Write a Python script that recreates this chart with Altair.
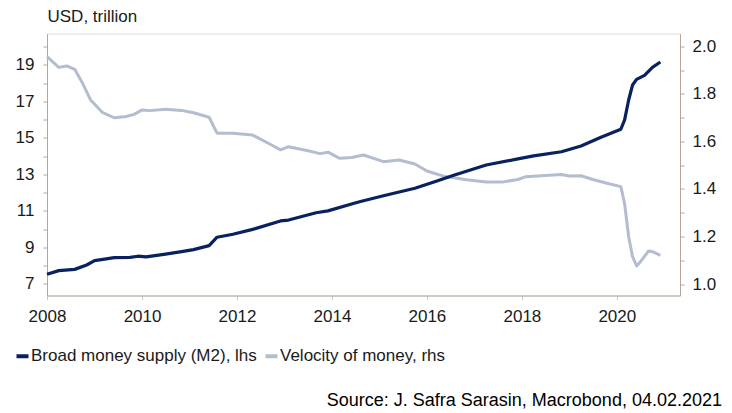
import altair as alt
import pandas as pd

# ---- data ----
series_names = ["Broad money supply (M2), lhs", "Velocity of money, rhs"]
series_colors = ["#0a2160", "#b4bdcf"]

m2_dates = ["2008-01", "2008-04", "2008-08", "2008-11", "2009-01", "2009-04", "2009-06",
            "2009-10", "2009-12", "2010-02", "2010-07", "2010-11", "2011-02", "2011-06",
            "2011-08", "2011-12", "2012-05", "2012-12", "2013-02", "2013-09", "2013-12",
            "2014-06", "2014-08", "2015-02", "2015-10", "2016-03", "2016-08", "2017-04",
            "2017-12", "2018-04", "2018-11", "2019-04", "2019-09", "2020-02", "2020-03",
            "2020-04", "2020-05", "2020-06", "2020-08", "2020-10", "2020-12"]
m2_values = [7.53, 7.73, 7.80, 8.04, 8.28, 8.37, 8.44,
             8.46, 8.52, 8.48, 8.63, 8.77, 8.88, 9.10,
             9.56, 9.72, 9.99, 10.45, 10.50, 10.90, 11.00,
             11.38, 11.50, 11.83, 12.24, 12.60, 12.97, 13.51,
             13.85, 14.01, 14.24, 14.55, 15.03, 15.47, 15.98,
             17.07, 17.89, 18.20, 18.42, 18.86, 19.15]

vel_dates = ["2008-01", "2008-04", "2008-06", "2008-08", "2008-10", "2008-12", "2009-03",
             "2009-06", "2009-09", "2009-11", "2010-01", "2010-03", "2010-07", "2010-11",
             "2011-02", "2011-06", "2011-08", "2011-12", "2012-05", "2012-10", "2012-12",
             "2013-02", "2013-07", "2013-10", "2013-12", "2014-03", "2014-06", "2014-09",
             "2015-02", "2015-06", "2015-10", "2016-01", "2016-05", "2016-11", "2017-04",
             "2017-08", "2017-12", "2018-02", "2018-06", "2018-11", "2019-01", "2019-04",
             "2019-07", "2019-11", "2020-02", "2020-03", "2020-04", "2020-05", "2020-06",
             "2020-07", "2020-09", "2020-10", "2020-12"]
vel_values = [1.957, 1.912, 1.918, 1.904, 1.845, 1.775, 1.723,
              1.700, 1.705, 1.714, 1.733, 1.730, 1.736, 1.731,
              1.721, 1.702, 1.635, 1.635, 1.627, 1.583, 1.565,
              1.578, 1.561, 1.549, 1.555, 1.529, 1.533, 1.543,
              1.515, 1.522, 1.505, 1.476, 1.455, 1.439, 1.429,
              1.429, 1.440, 1.452, 1.456, 1.461, 1.455, 1.456,
              1.440, 1.422, 1.410, 1.338, 1.199, 1.115, 1.076,
              1.094, 1.139, 1.136, 1.121]

left_ticks = list(range(7, 21))
right_ticks = [round(1.0 + 0.1 * i, 1) for i in range(11)]
x_tick_years = [2008, 2010, 2012, 2014, 2016, 2018, 2020]

# ---- styling ----
FONT = "Liberation Sans"
AXIS_COLOR = "#b3a899"
LABEL_COLOR = "#1a1a1a"

m2_df = pd.DataFrame({"date": pd.to_datetime([d + "-01" for d in m2_dates]),
                      "value": m2_values, "series": series_names[0]})
vel_df = pd.DataFrame({"date": pd.to_datetime([d + "-01" for d in vel_dates]),
                       "value": vel_values, "series": series_names[1]})

x_enc = alt.X(
    "date:T",
    scale=alt.Scale(domain=[alt.DateTime(year=2008, month=1, date=1),
                            alt.DateTime(year=2021, month=5, date=1)]),
    axis=alt.Axis(
        values=[alt.DateTime(year=y, month=1, date=1) for y in x_tick_years],
        format="%Y", title=None, grid=False, labelFlush=False, labelOverlap=False,
        domainColor=AXIS_COLOR, tickColor="#c8c8c8", tickSize=4,
        labelFont=FONT, labelFontSize=17, labelColor=LABEL_COLOR, labelPadding=9,
    ),
)

color_enc = alt.Color(
    "series:N",
    scale=alt.Scale(domain=series_names, range=series_colors),
    legend=alt.Legend(
        title=None, orient="none", legendX=-33, legendY=314, direction="horizontal",
        symbolType="stroke", symbolStrokeWidth=4, symbolSize=144,
        labelFont=FONT, labelFontSize=17, labelColor=LABEL_COLOR, labelLimit=0,
        labelOffset=0, columnPadding=0, padding=0,
    ),
)

vel_line = alt.Chart(vel_df).mark_line(strokeWidth=3, strokeJoin="round").encode(
    x=x_enc,
    y=alt.Y(
        "value:Q",
        scale=alt.Scale(domain=[0.9516, 2.0547], nice=False, zero=False),
        axis=alt.Axis(
            orient="right", values=right_ticks, title=None, grid=False,
            labelFlush=False, labelOverlap=False,
            labelExpr="round(datum.value*10) % 2 == 0 ? format(datum.value, '.1f') : ''",
            domainColor=AXIS_COLOR, tickColor=AXIS_COLOR, tickSize=4,
            labelFont=FONT, labelFontSize=17, labelColor=LABEL_COLOR, labelPadding=8,
        ),
    ),
    color=color_enc,
)

m2_line = alt.Chart(m2_df).mark_line(strokeWidth=3.2, strokeJoin="round").encode(
    x=x_enc,
    y=alt.Y(
        "value:Q",
        scale=alt.Scale(domain=[6.37, 20.71], nice=False, zero=False),
        axis=alt.Axis(
            orient="left", values=left_ticks, grid=False,
            labelFlush=False, labelOverlap=False,
            labelExpr="datum.value % 2 == 1 ? datum.label : ''",
            domainColor=AXIS_COLOR, tickColor=AXIS_COLOR, tickSize=4,
            labelFont=FONT, labelFontSize=17, labelColor=LABEL_COLOR, labelPadding=9,
            title="USD, trillion", titleAngle=0, titleAlign="left", titleBaseline="alphabetic",
            titleX=0, titleY=-12.5, titleFont=FONT, titleFontSize=17,
            titleFontWeight="normal", titleColor=LABEL_COLOR,
        ),
    ),
    color=color_enc,
)

chart = alt.layer(vel_line, m2_line).resolve_scale(y="independent").properties(
    width=633, height=262,
    autosize=alt.AutoSizeParams(type="none"),
    padding={"left": 39, "top": 25.5, "right": 44, "bottom": 114},
    title=alt.Title(
        text="Source: J. Safra Sarasin, Macrobond, 04.02.2021",
        orient="bottom", anchor="end", frame="group", offset=27, dx=42,
        font=FONT, fontSize=18, fontWeight="normal", color="#000000",
    ),
).configure_view(stroke=None).configure(background="white")

chart.save("out.html", embed_options={"renderer": "svg", "actions": False})
